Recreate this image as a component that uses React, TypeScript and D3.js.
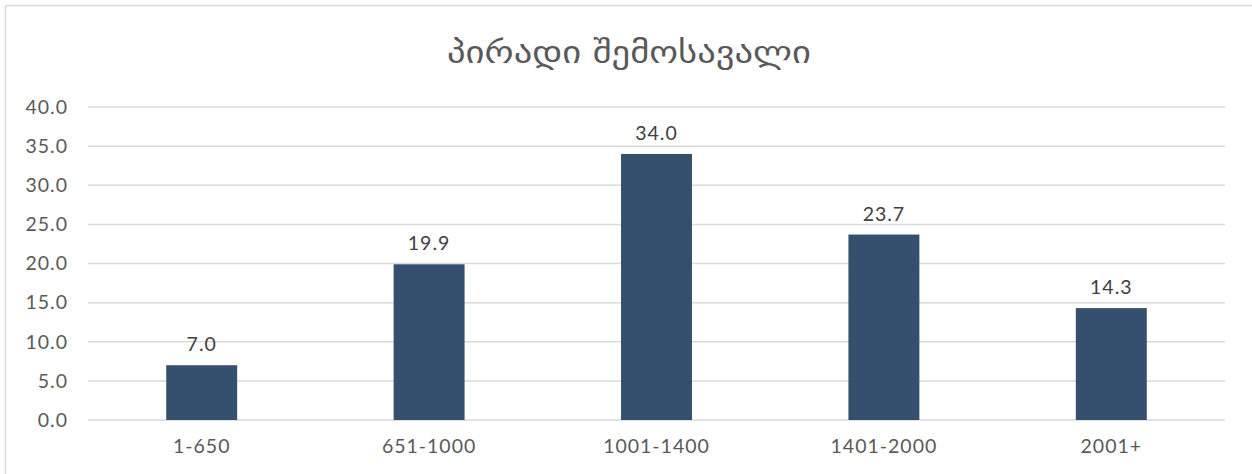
import React from "react";
import * as d3 from "d3";

const categories = ["1-650", "651-1000", "1001-1400", "1401-2000", "2001+"];
const values = [7.0, 19.9, 34.0, 23.7, 14.3];
const yTicks = [0, 5, 10, 15, 20, 25, 30, 35, 40];
const title = "პირადი შემოსავალი";

const W = 1252;
const H = 474;
const plot = { left: 88, right: 1225, top: 107, bottom: 420 };
const font = "'Lato', 'Open Sans', sans-serif";
const textColor = "#595959";

export default function App() {
  const x = d3
    .scaleBand<string>()
    .domain(categories)
    .range([plot.left, plot.right])
    .paddingInner(0.688)
    .paddingOuter(0.344);
  const y = d3.scaleLinear().domain([0, 40]).range([plot.bottom, plot.top]);

  const labelProps = {
    fontFamily: font,
    fontSize: 19.5,
    letterSpacing: 1,
  };

  return (
    <svg
      width={W}
      height={H}
      style={{ position: "absolute", left: 0, top: 0, background: "#fff" }}
    >
      <rect x={0} y={0} width={W} height={H} fill="#fff" />
      {/* chart frame: top and left edges visible */}
      <line x1={5.5} y1={5.5} x2={W} y2={5.5} stroke="#d9d9d9" strokeWidth={1.5} />
      <line x1={5.5} y1={5.5} x2={5.5} y2={H} stroke="#d9d9d9" strokeWidth={1.5} />

      <text
        x={629}
        y={63}
        textAnchor="middle"
        fontFamily="'DejaVu Sans', sans-serif"
        fontSize={30}
        fill={textColor}
        transform="translate(629,63) scale(1.22,1.05) translate(-629,-63)"
      >
        {title}
      </text>

      {yTicks.map((t) => (
        <g key={t}>
          <line
            x1={plot.left}
            x2={plot.right}
            y1={y(t)}
            y2={y(t)}
            stroke="#d9d9d9"
            strokeWidth={1.5}
          />
          <text
            x={68}
            y={y(t)}
            dy="0.35em"
            textAnchor="end"
            fill={textColor}
            {...labelProps}
          >
            {t.toFixed(1)}
          </text>
        </g>
      ))}

      {categories.map((c, i) => (
        <g key={c}>
          <rect
            x={x(c)}
            y={y(values[i])}
            width={x.bandwidth()}
            height={y(0) - y(values[i])}
            fill="#35506f"
          />
          <text
            x={(x(c) as number) + x.bandwidth() / 2}
            y={y(values[i]) - 14}
            textAnchor="middle"
            fill="#404040"
            {...labelProps}
          >
            {values[i].toFixed(1)}
          </text>
          <text
            x={(x(c) as number) + x.bandwidth() / 2}
            y={453}
            textAnchor="middle"
            fill={textColor}
            {...labelProps}
          >
            {c}
          </text>
        </g>
      ))}
    </svg>
  );
}
